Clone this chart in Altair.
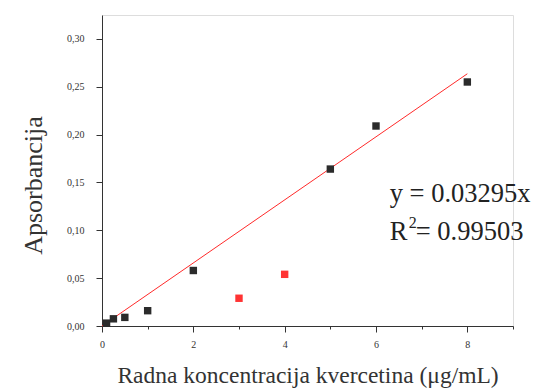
import altair as alt
import pandas as pd

# data
conc_black = [0.1, 0.25, 0.5, 1.0, 2.0, 5.0, 6.0, 8.0]
abs_black = [0.003, 0.0075, 0.009, 0.016, 0.058, 0.164, 0.209, 0.255]
conc_red = [3.0, 4.0]
abs_red = [0.029, 0.054]
fit_x = [0.0, 8.0]
fit_y = [0.0, 0.2636]
y_ticks = [round(i * 0.025, 3) for i in range(14)]
x_ticks = list(range(10))
eq_text = ["y = 0.03295x"]
r_main = ["R"]
r_sup = ["2"]
r_val = ["= 0.99503"]
ann_x = [6.3]
eq_y = [0.130]
r_y = [0.090]

FONT = "Liberation Serif"
AX = "#333333"
TXT = "#222222"

df_b = pd.DataFrame({"x": conc_black, "y": abs_black})
df_r = pd.DataFrame({"x": conc_red, "y": abs_red})
df_f = pd.DataFrame({"x": fit_x, "y": fit_y})
df_eq = pd.DataFrame({"x": ann_x, "y": eq_y, "t": eq_text})
df_rm = pd.DataFrame({"x": ann_x, "y": r_y, "t": r_main})
df_rs = pd.DataFrame({"x": ann_x, "y": r_y, "t": r_sup})
df_rv = pd.DataFrame({"x": ann_x, "y": r_y, "t": r_val})

xscale = alt.Scale(domain=[0, 9], nice=False, zero=False)
yscale = alt.Scale(domain=[0, 0.325], nice=False, zero=False)

xaxis = alt.Axis(
    values=x_ticks,
    labelExpr="datum.value % 2 == 0 ? datum.value : ''",
    tickSize={"condition": {"test": "datum.value % 2 == 0", "value": 6}, "value": 3},
    grid=False, domainColor=AX, tickColor=AX, labelColor=AX,
    labelFont=FONT, labelFontSize=10, labelPadding=7, labelFlush=False,
    title="Radna koncentracija kvercetina (μg/mL)",
    titleFont=FONT, titleFontSize=23.5, titleFontWeight="normal", titleColor=AX,
    titlePadding=14,
)
yaxis = alt.Axis(
    values=y_ticks,
    labelExpr="round(datum.value*1000) % 50 == 0 ? replace(format(datum.value, '.2f'), '.', ',') : ''",
    tickSize={"condition": {"test": "round(datum.value*1000) % 50 == 0", "value": 6}, "value": 3},
    grid=False, domainColor=AX, tickColor=AX, labelColor=AX,
    labelFont=FONT, labelFontSize=10, labelPadding=12, labelFlush=False,
    title="Apsorbancija",
    titleFont=FONT, titleFontSize=26, titleFontWeight="normal", titleColor=AX,
    titlePadding=20, titleY=170,
)

enc = dict(x=alt.X("x:Q", scale=xscale), y=alt.Y("y:Q", scale=yscale))

base_b = alt.Chart(df_b).mark_square(size=55, color="#2b2b2b", opacity=1).encode(
    x=alt.X("x:Q", scale=xscale, axis=xaxis),
    y=alt.Y("y:Q", scale=yscale, axis=yaxis),
)
pts_r = alt.Chart(df_r).mark_square(size=55, color="#ff3333", opacity=1).encode(**enc)
line = alt.Chart(df_f).mark_line(color="#ff2a2a", strokeWidth=1).encode(**enc)

def txt(df, size, dx=0, dy=0):
    return alt.Chart(df).mark_text(
        align="left", baseline="alphabetic", font=FONT, fontSize=size,
        color=TXT, dx=dx, dy=dy,
    ).encode(text="t:N", **enc)

ann = [
    txt(df_eq, 26.5),
    txt(df_rm, 26.5),
    txt(df_rs, 16, dx=19, dy=-12),
    txt(df_rv, 26.5, dx=26),
]

chart = alt.layer(line, base_b, pts_r, *ann).properties(
    width=411, height=311,
    autosize=alt.AutoSizeParams(type="none"),
    padding={"left": 102, "top": 15, "right": 27, "bottom": 66},
).configure_view(stroke=None).configure(background="white")

chart.save("out.html", embed_options={"renderer": "svg", "actions": False})
